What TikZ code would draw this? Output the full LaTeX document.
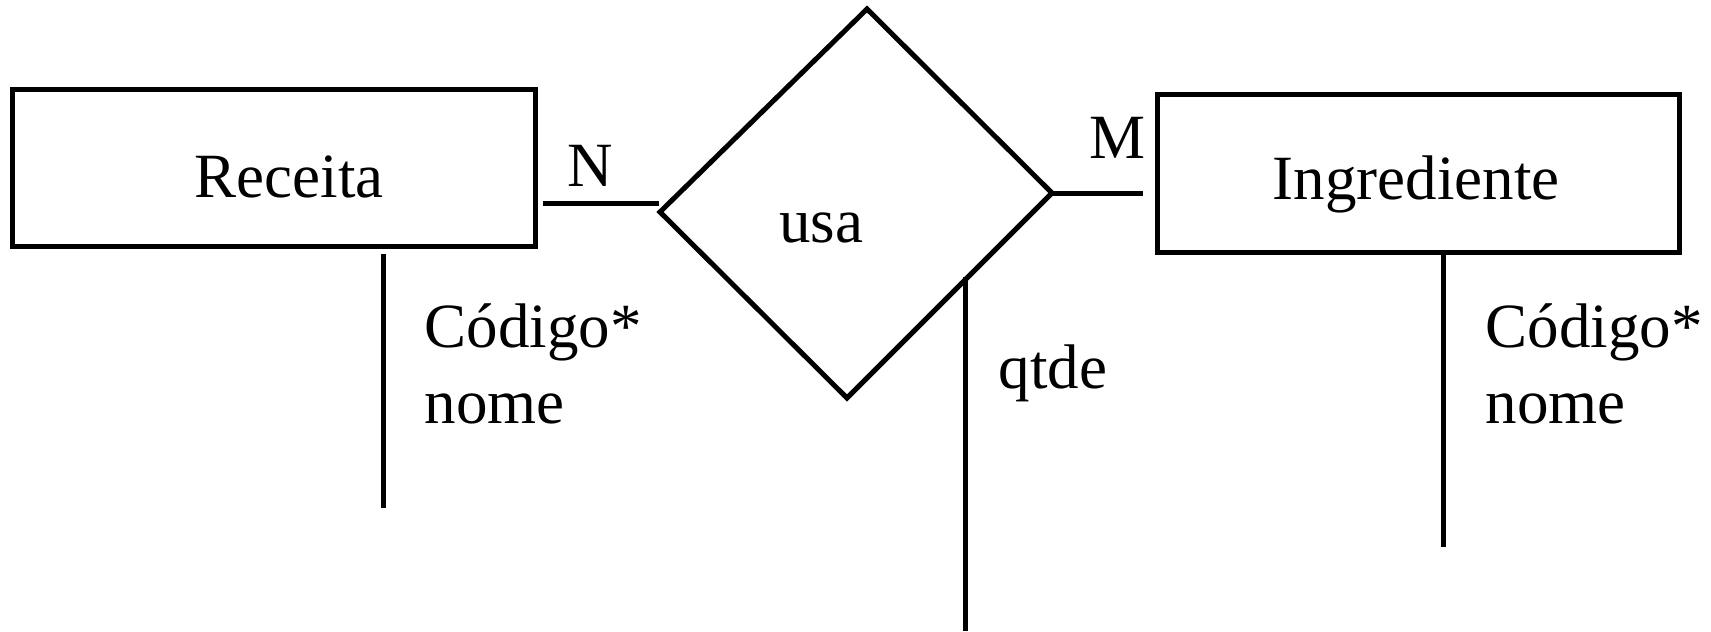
\documentclass[tikz,border=0pt]{standalone}
\usepackage{fontspec}
\setmainfont{Liberation Serif}
\begin{document}
\begin{tikzpicture}[x=0.5pt,y=-0.5pt,
  line width=2.5pt, line join=miter,
  entity/.style={draw, rectangle, inner sep=0pt, line width=2.5pt},
  txt/.style={inner sep=0pt, font=\fontsize{31.5pt}{38pt}\selectfont},
  conn/.style={draw, line width=2.5pt}]
\useasboundingbox (0,0) rectangle (1711,631);
% entities
\node[entity, minimum width=261.5pt, minimum height=78pt] (rec) at (273.5,168) {};
\node[entity, minimum width=261pt, minimum height=78.5pt] (ing) at (1418,173.5) {};
\node[txt, anchor=base] (rectxt) at (289,197) {Receita};
\node[txt, anchor=base] (ingtxt) at (1416,199) {Ingrediente};
% relationship diamond
\coordinate (dT) at (867,9);
\coordinate (dL) at (660,212);
\coordinate (dB) at (847,398);
\coordinate (dR) at (1052,193);
\draw (dT) -- (dR) -- (dB) -- (dL) -- cycle;
\node[txt, anchor=base] (usa) at (821,242) {usa};
% connectors
\coordinate (nA) at (543,203);
\coordinate (nB) at (659,203);
\draw[conn] (nA) -- (nB);
\coordinate (mB) at (1143,193);
\draw[conn] (dR) -- (mB);
\node[txt, anchor=base] (N) at (590,186) {N};
\node[txt, anchor=base] (M) at (1117,158) {M};
% attribute lines
\coordinate (ra1) at (383,254);
\coordinate (ra2) at (383,508);
\draw[conn] (ra1) -- (ra2);
\coordinate (ia1) at (1443,252);
\coordinate (ia2) at (1443,547);
\draw[conn] (ia1) -- (ia2);
\coordinate (qa1) at (965,277);
\coordinate (qa2) at (965,631);
\draw[conn] (qa1) -- (qa2);
% attribute texts
\node[txt, anchor=base west] (rcod) at (422,347) {Código*};
\node[txt, anchor=base west] (rnome) at (422,423) {nome};
\node[txt, anchor=base west] (icod) at (1483,347) {Código*};
\node[txt, anchor=base west] (inome) at (1483,423) {nome};
\node[txt, anchor=base west] (qtde) at (996,388) {qtde};
\end{tikzpicture}
\end{document}
